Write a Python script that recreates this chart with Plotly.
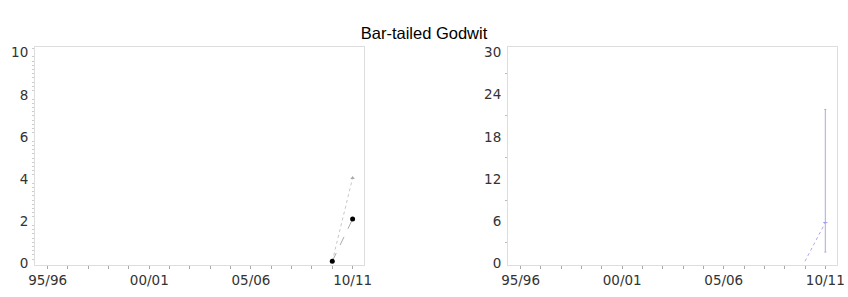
import plotly.graph_objects as go

seasons = ["95/96", "96/97", "97/98", "98/99", "99/00", "00/01", "01/02", "02/03",
           "03/04", "04/05", "05/06", "06/07", "07/08", "08/09", "09/10", "10/11"]
label_seasons = ["95/96", "00/01", "05/06", "10/11"]

left_x = ["09/10", "10/11"]
left_dots = [0.1, 2.1]
left_tri = [0.1, 4.05]

right_x = ["09/10", "10/11"]
right_vals = [0.3, 5.8]
right_err_hi = [0, 21.9]
right_err_lo = [0, 1.6]

idx = {s: i for i, s in enumerate(seasons)}
lx = [idx[s] for s in left_x]
rx = [idx[s] for s in right_x]
tickvals = [idx[s] for s in label_seasons]

W, H = 848, 297

fig = go.Figure()
fig.add_trace(go.Scatter(x=lx, y=left_tri, mode="lines", line=dict(color="#c8c8c8", width=1, dash="dot"),
                         xaxis="x", yaxis="y", showlegend=False))
fig.add_trace(go.Scatter(x=lx[1:], y=left_tri[1:], mode="markers",
                         marker=dict(symbol="triangle-up", size=4, color="#aaaaaa"),
                         xaxis="x", yaxis="y", showlegend=False))
fig.add_trace(go.Scatter(x=lx, y=left_dots, mode="lines+markers",
                         line=dict(color="#aaaaaa", width=1, dash="dash"),
                         marker=dict(symbol="circle", size=5, color="#000000"),
                         xaxis="x", yaxis="y", showlegend=False))

fig.add_trace(go.Scatter(x=rx, y=right_vals, mode="lines",
                         line=dict(color="#aaaaee", width=1, dash="dot"),
                         xaxis="x2", yaxis="y2", showlegend=False))
fig.add_trace(go.Scatter(x=rx[1:], y=right_vals[1:], mode="markers",
                         marker=dict(symbol="line-ew", size=3, color="#9999ee",
                                     line=dict(color="#9999ee", width=1)),
                         error_y=dict(type="data", symmetric=False,
                                      array=[right_err_hi[1] - right_vals[1]],
                                      arrayminus=[right_vals[1] - right_err_lo[1]],
                                      color="#aaaaee", thickness=1, width=1),
                         xaxis="x2", yaxis="y2", showlegend=False))

tickfont = dict(family="DejaVu Sans, sans-serif", size=13.5, color="#333333")

def xax(domain, anchor):
    return dict(domain=domain, anchor=anchor, range=[-0.62, 15.56], tickmode="array",
                tickvals=tickvals, ticktext=label_seasons, ticks="outside", ticklen=3,
                tickcolor="#aaaaaa", showline=True, linecolor="#dddddd", linewidth=1, mirror=True,
                showgrid=False, zeroline=False, tickfont=tickfont, automargin=False,
                minor=dict(tickmode="linear", tick0=0, dtick=1, ticks="outside", ticklen=3,
                           tickcolor="#aaaaaa"))

def yax(domain, anchor, rng, dtick, minor_dtick, minor_color):
    return dict(domain=domain, anchor=anchor, range=rng, tickmode="linear", tick0=0, dtick=dtick,
                ticks="", showline=True, linecolor="#dddddd", linewidth=1, mirror=True,
                showgrid=False, zeroline=False, tickfont=tickfont, ticklabelstandoff=3,
                automargin=False,
                minor=dict(tickmode="linear", tick0=0, dtick=minor_dtick, ticks="outside", ticklen=2,
                           tickcolor=minor_color))

def px_x(a, b):
    return [a / W, b / W]

ydom = [1 - 265 / H, 1 - 47 / H]
fig.update_layout(
    width=W, height=H,
    margin=dict(l=0, r=0, t=0, b=0, autoexpand=False),
    paper_bgcolor="white", plot_bgcolor="white",
    hovermode=False,
    title=dict(text="Bar-tailed Godwit", x=424 / W, xanchor="center",
               y=1 - 33 / H, yanchor="middle",
               font=dict(family="Liberation Sans, Arial, sans-serif",
                         size=16.5, color="#000000")),
    xaxis=xax(px_x(35, 364), "y"),
    yaxis=yax(ydom, "x", [-0.08, 10.27], 2, 0.2, "#cccccc"),
    xaxis2=xax(px_x(508, 836.7), "y2"),
    yaxis2=yax(ydom, "x2", [-0.24, 30.8], 6, 3, "#bbbbbb"),
)

fig.write_html("out.html", config={"displayModeBar": False},
               post_script="document.body.style.margin='0';document.body.style.overflow='hidden';")
